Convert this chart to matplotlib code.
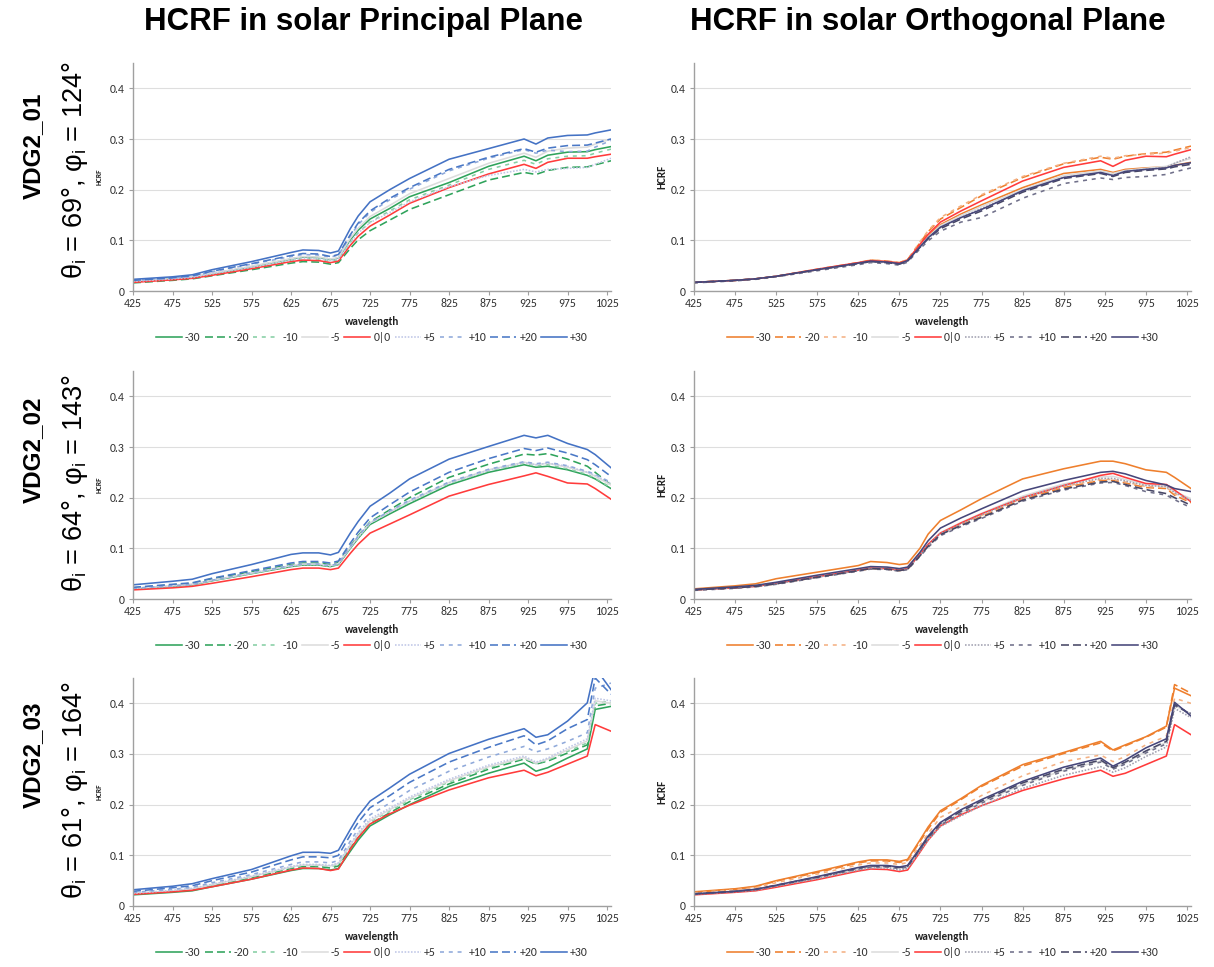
import matplotlib
matplotlib.use("Agg")
import matplotlib.pyplot as plt
from matplotlib import font_manager

# ---------------- data ----------------
wavelength = [425, 475, 500, 525, 575, 625, 640, 660, 675, 685, 700, 710, 725, 750,
              775, 825, 875, 920, 935, 950, 975, 1000, 1010, 1030]
x_ticks = [425, 475, 525, 575, 625, 675, 725, 775, 825, 875, 925, 975, 1025]
y_ticks = [0, 0.1, 0.2, 0.3, 0.4]
y_tick_labels = ['0', '0.1', '0.2', '0.3', '0.4']
series_labels = ['-30', '-20', '-10', '-5', '0|0', '+5', '+10', '+20', '+30']
col_titles = ['HCRF in solar Principal Plane', 'HCRF in solar Orthogonal Plane']
row_names = ['VDG2_01', 'VDG2_02', 'VDG2_03']
row_theta = [69, 64, 61]
row_phi = [124, 143, 164]

# Row 1 - principal plane
r1pp_m30 = [0.019, 0.024, 0.027, 0.034, 0.048, 0.063, 0.067, 0.066, 0.062, 0.065, 0.101, 0.120, 0.142, 0.163, 0.186, 0.214, 0.246, 0.266, 0.257, 0.268, 0.274, 0.275, 0.279, 0.285]
r1pp_m20 = [0.016, 0.021, 0.024, 0.030, 0.042, 0.055, 0.058, 0.057, 0.053, 0.056, 0.084, 0.101, 0.119, 0.140, 0.161, 0.190, 0.219, 0.234, 0.230, 0.238, 0.244, 0.245, 0.249, 0.257]
r1pp_m10 = [0.018, 0.023, 0.026, 0.033, 0.046, 0.060, 0.064, 0.063, 0.059, 0.062, 0.096, 0.115, 0.136, 0.158, 0.180, 0.209, 0.240, 0.258, 0.250, 0.261, 0.266, 0.267, 0.272, 0.280]
r1pp_m5 = [0.019, 0.024, 0.028, 0.035, 0.049, 0.064, 0.068, 0.067, 0.063, 0.066, 0.104, 0.124, 0.147, 0.169, 0.192, 0.222, 0.252, 0.272, 0.264, 0.276, 0.282, 0.284, 0.290, 0.300]
r1pp_00 = [0.017, 0.022, 0.025, 0.031, 0.044, 0.058, 0.061, 0.060, 0.056, 0.059, 0.090, 0.108, 0.128, 0.150, 0.173, 0.204, 0.231, 0.250, 0.242, 0.254, 0.262, 0.262, 0.265, 0.270]
r1pp_p5 = [0.019, 0.024, 0.027, 0.034, 0.047, 0.061, 0.065, 0.064, 0.060, 0.063, 0.096, 0.114, 0.135, 0.155, 0.176, 0.206, 0.228, 0.240, 0.235, 0.240, 0.242, 0.244, 0.250, 0.262]
r1pp_p10 = [0.021, 0.026, 0.029, 0.038, 0.053, 0.068, 0.072, 0.071, 0.067, 0.071, 0.109, 0.131, 0.155, 0.180, 0.201, 0.237, 0.262, 0.279, 0.272, 0.278, 0.275, 0.276, 0.284, 0.297]
r1pp_p20 = [0.021, 0.026, 0.030, 0.039, 0.054, 0.070, 0.074, 0.073, 0.068, 0.072, 0.111, 0.134, 0.158, 0.183, 0.204, 0.240, 0.264, 0.281, 0.274, 0.282, 0.287, 0.288, 0.292, 0.300]
r1pp_p30 = [0.023, 0.028, 0.032, 0.042, 0.058, 0.076, 0.081, 0.080, 0.075, 0.079, 0.123, 0.148, 0.176, 0.200, 0.222, 0.260, 0.281, 0.300, 0.290, 0.302, 0.307, 0.308, 0.312, 0.318]

# Row 1 - orthogonal plane
r1op_m30 = [0.017, 0.021, 0.024, 0.029, 0.042, 0.055, 0.060, 0.058, 0.055, 0.061, 0.090, 0.109, 0.131, 0.152, 0.170, 0.204, 0.232, 0.240, 0.234, 0.240, 0.243, 0.245, 0.248, 0.254]
r1op_m20 = [0.017, 0.021, 0.024, 0.029, 0.043, 0.056, 0.061, 0.059, 0.056, 0.062, 0.095, 0.117, 0.142, 0.165, 0.188, 0.224, 0.251, 0.264, 0.260, 0.266, 0.271, 0.274, 0.278, 0.286]
r1op_m10 = [0.017, 0.021, 0.024, 0.029, 0.043, 0.056, 0.061, 0.059, 0.056, 0.062, 0.097, 0.119, 0.145, 0.168, 0.190, 0.226, 0.252, 0.266, 0.262, 0.267, 0.270, 0.272, 0.276, 0.283]
r1op_m5 = [0.017, 0.021, 0.024, 0.029, 0.042, 0.055, 0.059, 0.057, 0.054, 0.060, 0.089, 0.107, 0.129, 0.149, 0.167, 0.200, 0.228, 0.237, 0.232, 0.238, 0.242, 0.246, 0.252, 0.262]
r1op_00 = [0.017, 0.021, 0.024, 0.029, 0.043, 0.056, 0.060, 0.058, 0.055, 0.061, 0.092, 0.112, 0.136, 0.158, 0.178, 0.217, 0.244, 0.257, 0.246, 0.258, 0.266, 0.265, 0.270, 0.279]
r1op_p5 = [0.017, 0.021, 0.024, 0.029, 0.042, 0.054, 0.058, 0.056, 0.053, 0.059, 0.087, 0.104, 0.125, 0.145, 0.163, 0.196, 0.224, 0.233, 0.228, 0.236, 0.240, 0.244, 0.252, 0.265]
r1op_p10 = [0.016, 0.020, 0.023, 0.028, 0.040, 0.052, 0.056, 0.054, 0.051, 0.057, 0.083, 0.099, 0.118, 0.136, 0.145, 0.183, 0.212, 0.223, 0.220, 0.224, 0.226, 0.230, 0.235, 0.243]
r1op_p20 = [0.017, 0.021, 0.024, 0.029, 0.042, 0.054, 0.058, 0.056, 0.053, 0.059, 0.086, 0.103, 0.123, 0.142, 0.158, 0.195, 0.222, 0.232, 0.226, 0.234, 0.238, 0.241, 0.245, 0.250]
r1op_p30 = [0.017, 0.021, 0.024, 0.029, 0.042, 0.055, 0.059, 0.057, 0.054, 0.060, 0.087, 0.105, 0.126, 0.145, 0.161, 0.198, 0.224, 0.234, 0.228, 0.236, 0.240, 0.243, 0.248, 0.253]

# Row 2 - principal plane
r2pp_m30 = [0.020, 0.025, 0.028, 0.036, 0.050, 0.064, 0.067, 0.067, 0.064, 0.068, 0.100, 0.120, 0.147, 0.168, 0.188, 0.225, 0.250, 0.265, 0.260, 0.262, 0.255, 0.244, 0.237, 0.218]
r2pp_m20 = [0.022, 0.028, 0.031, 0.040, 0.054, 0.068, 0.071, 0.071, 0.068, 0.072, 0.104, 0.125, 0.152, 0.176, 0.200, 0.240, 0.266, 0.286, 0.284, 0.287, 0.276, 0.262, 0.250, 0.225]
r2pp_m10 = [0.021, 0.026, 0.029, 0.037, 0.051, 0.065, 0.068, 0.068, 0.065, 0.069, 0.101, 0.121, 0.149, 0.171, 0.192, 0.228, 0.253, 0.268, 0.263, 0.265, 0.257, 0.246, 0.238, 0.220]
r2pp_m5 = [0.021, 0.026, 0.029, 0.037, 0.051, 0.066, 0.069, 0.069, 0.066, 0.070, 0.102, 0.123, 0.150, 0.172, 0.193, 0.230, 0.255, 0.270, 0.265, 0.268, 0.260, 0.250, 0.242, 0.225]
r2pp_00 = [0.018, 0.022, 0.025, 0.031, 0.044, 0.058, 0.061, 0.061, 0.058, 0.061, 0.090, 0.108, 0.130, 0.148, 0.166, 0.203, 0.226, 0.243, 0.249, 0.242, 0.229, 0.227, 0.218, 0.197]
r2pp_p5 = [0.021, 0.026, 0.029, 0.037, 0.051, 0.065, 0.068, 0.068, 0.065, 0.069, 0.102, 0.122, 0.150, 0.172, 0.193, 0.229, 0.254, 0.269, 0.265, 0.268, 0.262, 0.250, 0.244, 0.228]
r2pp_p10 = [0.021, 0.026, 0.029, 0.037, 0.052, 0.066, 0.069, 0.069, 0.066, 0.070, 0.103, 0.124, 0.151, 0.174, 0.195, 0.231, 0.256, 0.271, 0.267, 0.270, 0.263, 0.252, 0.246, 0.230]
r2pp_p20 = [0.023, 0.029, 0.032, 0.041, 0.056, 0.071, 0.074, 0.074, 0.071, 0.075, 0.110, 0.132, 0.160, 0.186, 0.211, 0.250, 0.277, 0.297, 0.293, 0.298, 0.288, 0.275, 0.265, 0.242]
r2pp_p30 = [0.028, 0.035, 0.039, 0.050, 0.068, 0.088, 0.091, 0.091, 0.087, 0.092, 0.130, 0.153, 0.183, 0.209, 0.237, 0.276, 0.301, 0.323, 0.318, 0.323, 0.307, 0.295, 0.285, 0.259]

# Row 2 - orthogonal plane
r2op_m30 = [0.020, 0.026, 0.030, 0.040, 0.053, 0.066, 0.074, 0.072, 0.068, 0.070, 0.100, 0.128, 0.155, 0.176, 0.198, 0.237, 0.257, 0.272, 0.272, 0.267, 0.255, 0.250, 0.240, 0.218]
r2op_m20 = [0.018, 0.022, 0.025, 0.030, 0.043, 0.056, 0.060, 0.059, 0.056, 0.059, 0.086, 0.105, 0.128, 0.147, 0.163, 0.197, 0.220, 0.234, 0.234, 0.229, 0.220, 0.218, 0.205, 0.190]
r2op_m10 = [0.018, 0.022, 0.025, 0.030, 0.043, 0.056, 0.060, 0.059, 0.056, 0.059, 0.086, 0.105, 0.129, 0.148, 0.165, 0.199, 0.222, 0.236, 0.236, 0.231, 0.222, 0.220, 0.208, 0.192]
r2op_m5 = [0.018, 0.022, 0.025, 0.030, 0.043, 0.057, 0.061, 0.060, 0.057, 0.060, 0.088, 0.108, 0.131, 0.151, 0.169, 0.203, 0.227, 0.241, 0.242, 0.236, 0.226, 0.222, 0.212, 0.198]
r2op_00 = [0.018, 0.022, 0.025, 0.031, 0.044, 0.057, 0.061, 0.060, 0.057, 0.060, 0.088, 0.108, 0.130, 0.150, 0.168, 0.200, 0.224, 0.244, 0.248, 0.240, 0.228, 0.226, 0.215, 0.192]
r2op_p5 = [0.018, 0.022, 0.025, 0.030, 0.043, 0.056, 0.060, 0.059, 0.056, 0.059, 0.087, 0.106, 0.129, 0.148, 0.166, 0.200, 0.224, 0.238, 0.238, 0.233, 0.224, 0.222, 0.210, 0.195]
r2op_p10 = [0.017, 0.021, 0.024, 0.029, 0.042, 0.055, 0.059, 0.058, 0.055, 0.058, 0.084, 0.102, 0.125, 0.143, 0.159, 0.193, 0.215, 0.229, 0.230, 0.224, 0.212, 0.205, 0.196, 0.180]
r2op_p20 = [0.018, 0.022, 0.025, 0.030, 0.043, 0.056, 0.060, 0.059, 0.056, 0.059, 0.085, 0.104, 0.127, 0.145, 0.161, 0.195, 0.217, 0.231, 0.232, 0.226, 0.216, 0.208, 0.200, 0.185]
r2op_p30 = [0.019, 0.024, 0.027, 0.033, 0.047, 0.060, 0.064, 0.063, 0.060, 0.063, 0.092, 0.115, 0.140, 0.160, 0.178, 0.213, 0.234, 0.250, 0.252, 0.247, 0.234, 0.225, 0.218, 0.212]

# Row 3 - principal plane
r3pp_m30 = [0.022, 0.027, 0.030, 0.038, 0.053, 0.070, 0.074, 0.074, 0.071, 0.074, 0.108, 0.130, 0.158, 0.180, 0.200, 0.236, 0.262, 0.282, 0.266, 0.273, 0.292, 0.310, 0.388, 0.394]
r3pp_m20 = [0.024, 0.029, 0.033, 0.041, 0.056, 0.074, 0.078, 0.078, 0.075, 0.079, 0.114, 0.135, 0.162, 0.184, 0.206, 0.241, 0.270, 0.290, 0.280, 0.286, 0.302, 0.318, 0.395, 0.400]
r3pp_m10 = [0.025, 0.030, 0.034, 0.042, 0.058, 0.076, 0.080, 0.080, 0.078, 0.082, 0.118, 0.140, 0.166, 0.188, 0.210, 0.245, 0.273, 0.292, 0.281, 0.288, 0.305, 0.322, 0.400, 0.405]
r3pp_m5 = [0.025, 0.030, 0.034, 0.042, 0.058, 0.077, 0.081, 0.081, 0.079, 0.084, 0.120, 0.142, 0.168, 0.190, 0.212, 0.247, 0.275, 0.293, 0.282, 0.290, 0.308, 0.326, 0.405, 0.400]
r3pp_00 = [0.023, 0.028, 0.031, 0.038, 0.053, 0.071, 0.075, 0.074, 0.070, 0.073, 0.112, 0.135, 0.162, 0.182, 0.199, 0.229, 0.253, 0.268, 0.257, 0.264, 0.280, 0.296, 0.358, 0.345]
r3pp_p5 = [0.025, 0.031, 0.035, 0.043, 0.059, 0.078, 0.082, 0.082, 0.080, 0.085, 0.122, 0.145, 0.172, 0.193, 0.215, 0.250, 0.278, 0.296, 0.284, 0.292, 0.312, 0.330, 0.410, 0.405]
r3pp_p10 = [0.027, 0.033, 0.037, 0.046, 0.062, 0.082, 0.087, 0.087, 0.085, 0.090, 0.128, 0.152, 0.180, 0.203, 0.228, 0.266, 0.294, 0.315, 0.304, 0.310, 0.325, 0.342, 0.430, 0.440]
r3pp_p20 = [0.029, 0.036, 0.040, 0.050, 0.067, 0.091, 0.097, 0.097, 0.095, 0.100, 0.140, 0.165, 0.194, 0.218, 0.244, 0.284, 0.313, 0.336, 0.318, 0.326, 0.350, 0.368, 0.450, 0.418]
r3pp_p30 = [0.032, 0.039, 0.044, 0.054, 0.072, 0.099, 0.106, 0.106, 0.104, 0.110, 0.151, 0.177, 0.207, 0.233, 0.260, 0.301, 0.329, 0.350, 0.333, 0.338, 0.365, 0.401, 0.470, 0.427]

# Row 3 - orthogonal plane
r3op_m30 = [0.028, 0.034, 0.039, 0.050, 0.068, 0.087, 0.091, 0.091, 0.088, 0.092, 0.130, 0.156, 0.188, 0.212, 0.238, 0.279, 0.303, 0.325, 0.308, 0.318, 0.334, 0.355, 0.430, 0.415]
r3op_m20 = [0.027, 0.033, 0.038, 0.049, 0.066, 0.085, 0.089, 0.089, 0.086, 0.090, 0.127, 0.152, 0.185, 0.210, 0.236, 0.276, 0.301, 0.322, 0.306, 0.316, 0.333, 0.353, 0.437, 0.420]
r3op_m10 = [0.026, 0.032, 0.036, 0.046, 0.063, 0.081, 0.085, 0.085, 0.082, 0.086, 0.120, 0.143, 0.175, 0.196, 0.218, 0.257, 0.285, 0.298, 0.285, 0.295, 0.318, 0.335, 0.410, 0.400]
r3op_m5 = [0.024, 0.029, 0.032, 0.040, 0.056, 0.073, 0.077, 0.077, 0.074, 0.077, 0.111, 0.134, 0.161, 0.184, 0.205, 0.240, 0.268, 0.286, 0.272, 0.282, 0.305, 0.323, 0.396, 0.378]
r3op_00 = [0.022, 0.027, 0.030, 0.037, 0.052, 0.069, 0.073, 0.072, 0.068, 0.071, 0.106, 0.130, 0.158, 0.180, 0.198, 0.228, 0.251, 0.268, 0.256, 0.262, 0.279, 0.296, 0.358, 0.338]
r3op_p5 = [0.023, 0.028, 0.031, 0.039, 0.054, 0.071, 0.075, 0.075, 0.071, 0.074, 0.108, 0.130, 0.157, 0.178, 0.198, 0.232, 0.258, 0.275, 0.264, 0.273, 0.295, 0.314, 0.390, 0.372]
r3op_p10 = [0.023, 0.028, 0.032, 0.040, 0.056, 0.073, 0.077, 0.077, 0.074, 0.077, 0.110, 0.133, 0.160, 0.183, 0.203, 0.238, 0.266, 0.284, 0.270, 0.280, 0.302, 0.320, 0.395, 0.380]
r3op_p20 = [0.024, 0.029, 0.033, 0.041, 0.057, 0.075, 0.079, 0.079, 0.076, 0.079, 0.112, 0.136, 0.163, 0.187, 0.207, 0.243, 0.270, 0.288, 0.273, 0.284, 0.306, 0.325, 0.398, 0.378]
r3op_p30 = [0.024, 0.029, 0.033, 0.041, 0.058, 0.076, 0.080, 0.080, 0.077, 0.080, 0.114, 0.138, 0.165, 0.190, 0.210, 0.246, 0.274, 0.292, 0.276, 0.288, 0.312, 0.330, 0.402, 0.375]

panels = [
    [[r1pp_m30, r1pp_m20, r1pp_m10, r1pp_m5, r1pp_00, r1pp_p5, r1pp_p10, r1pp_p20, r1pp_p30],
     [r1op_m30, r1op_m20, r1op_m10, r1op_m5, r1op_00, r1op_p5, r1op_p10, r1op_p20, r1op_p30]],
    [[r2pp_m30, r2pp_m20, r2pp_m10, r2pp_m5, r2pp_00, r2pp_p5, r2pp_p10, r2pp_p20, r2pp_p30],
     [r2op_m30, r2op_m20, r2op_m10, r2op_m5, r2op_00, r2op_p5, r2op_p10, r2op_p20, r2op_p30]],
    [[r3pp_m30, r3pp_m20, r3pp_m10, r3pp_m5, r3pp_00, r3pp_p5, r3pp_p10, r3pp_p20, r3pp_p30],
     [r3op_m30, r3op_m20, r3op_m10, r3op_m5, r3op_00, r3op_p5, r3op_p10, r3op_p20, r3op_p30]],
]

# ---------------- fonts ----------------
available = {f.name for f in font_manager.fontManager.ttflist}
def pick(names):
    for n in names:
        if n in available:
            return n
    return 'DejaVu Sans'

narrow = pick(['Liberation Sans Narrow', 'Liberation Sans'])
is_narrow = narrow == 'Liberation Sans Narrow'
tickfont = pick(['Carlito', 'Lato', 'Open Sans'])

plt.rcParams['font.family'] = [tickfont, 'DejaVu Sans']
plt.rcParams['mathtext.fontset'] = 'custom'
plt.rcParams['mathtext.rm'] = narrow
plt.rcParams['mathtext.it'] = narrow

# ---------------- styles ----------------
solid = '-'
long_dash = (0, (5, 2.5))
short_dash = (0, (2.5, 3))
dotted = (0, (1, 1))
styles = [solid, long_dash, short_dash, solid, solid, dotted, short_dash, long_dash, solid]
left_colors = ['#2FA35B', '#2FA35B', '#86CFA4', '#DCDCDC', '#FF3B3B',
               '#BFC6E6', '#8FA9DA', '#4A78C6', '#4472C4']
right_colors = ['#EE7F2D', '#EE7F2D', '#F4B183', '#DCDCDC', '#FF3B3B',
                '#A0A0B0', '#70708A', '#474766', '#46467A']

W, H = 1214, 967
fig = plt.figure(figsize=(W / 100, H / 100), dpi=100)

col_left = [133, 694]
col_width = [478, 497]
row_bottom = [291, 599, 906]
ax_h = 228

for r in range(3):
    for c in range(2):
        ax = fig.add_axes([col_left[c] / W, 1 - row_bottom[r] / H, col_width[c] / W, ax_h / H])
        colors = left_colors if c == 0 else right_colors
        for k in range(9):
            ax.plot(wavelength, panels[r][c][k], color=colors[k], linestyle=styles[k],
                    lw=1.15, label=series_labels[k])
        ax.set_xlim(425, 1030)
        ax.set_ylim(0, 0.45)
        ax.set_xticks(x_ticks)
        ax.set_xticklabels([str(t) for t in x_ticks])
        ax.set_yticks(y_ticks)
        ax.set_yticklabels(y_tick_labels)
        for s in ['top', 'right']:
            ax.spines[s].set_visible(False)
        for s in ['left', 'bottom']:
            ax.spines[s].set_color('#A0A0A0')
            ax.spines[s].set_linewidth(1.0)
        ax.grid(axis='y', color='#DEDEDE', lw=0.8)
        ax.set_axisbelow(True)
        ax.tick_params(axis='x', direction='out', length=3, width=0.8, color='#A0A0A0',
                       labelsize=8.5, labelcolor='#333333', pad=2)
        ax.tick_params(axis='y', direction='out', length=3, width=0.8, color='#A0A0A0',
                       labelsize=8.5, labelcolor='#333333', pad=3)
        ax.text(0.5, -0.132, 'wavelength', transform=ax.transAxes, ha='center', va='center',
                fontsize=8, fontweight='bold', color='#222222')
        if c == 0:
            ax.set_ylabel('HCRF', fontsize=5.5, fontweight='bold', color='#222222')
            ax.yaxis.set_label_coords(-0.063, 0.5)
        else:
            ax.set_ylabel('HCRF', fontsize=8, fontweight='bold', color='#222222')
            ax.yaxis.set_label_coords(-0.053, 0.5)
        leg = ax.legend(loc='center', bbox_to_anchor=(0.5, -0.205), ncol=9, frameon=False,
                        fontsize=8.5, handlelength=2.2, handletextpad=0.25, columnspacing=0.35,
                        borderaxespad=0)
        for t in leg.get_texts():
            t.set_color('#333333')

title_size = 22 if is_narrow else 22.5
name_size = 20 if is_narrow else 17.5
theta_size = 20 if is_narrow else 19.5

# column titles
for c, cx in enumerate([363, 928]):
    fig.text(cx / W, 1 - 22 / H, col_titles[c], ha='center', va='center',
             fontsize=title_size, fontweight='bold', family=narrow)

# row labels
name_y = [146, 450, 755]
theta_y = [170, 483, 790]
for r in range(3):
    fig.text(33 / W, 1 - name_y[r] / H, row_names[r], rotation=90, ha='center', va='center',
             fontsize=name_size, fontweight='bold', family=narrow)
    txt = 'θ$_\\mathrm{i}$ = %d°, φ$_\\mathrm{i}$ = %d°' % (row_theta[r], row_phi[r])
    fig.text(75 / W, 1 - theta_y[r] / H, txt, rotation=90, ha='center', va='center',
             fontsize=theta_size, family=narrow)

fig.savefig('out.png', dpi=100)
